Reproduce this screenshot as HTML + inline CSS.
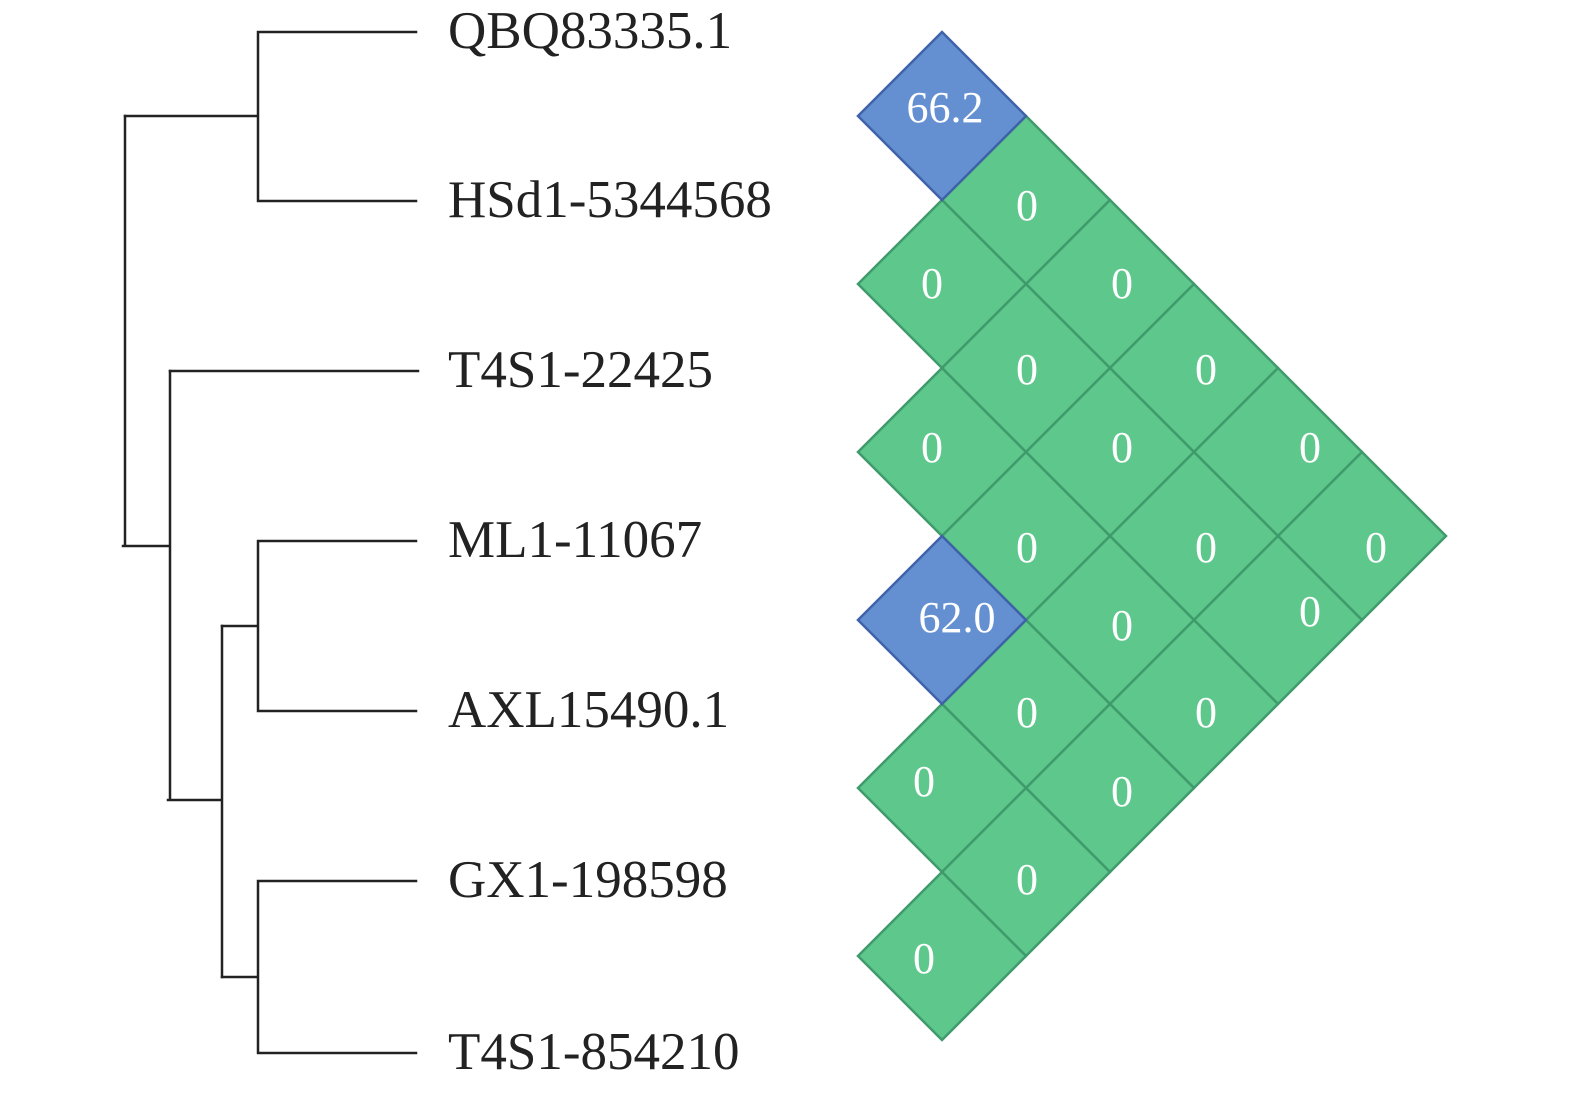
<!DOCTYPE html>
<html><head><meta charset="utf-8"><style>
html,body{margin:0;padding:0;background:#fff;}
svg{display:block;}
</style></head><body>
<svg width="1575" height="1096" viewBox="0 0 1575 1096" xmlns="http://www.w3.org/2000/svg">
<g stroke="#222" stroke-width="2.5" fill="none" stroke-linecap="square">
<path d="M258 32H416M258 201H416M258 32V201M258 116H125"/>
<path d="M170 371H418"/>
<path d="M258 541H416M258 711H416M258 541V711M258 626H222"/>
<path d="M258 881H416M258 1053H416M258 881V1053M258 977H222"/>
<path d="M222 626V977M222 800H168M170 371V800M170 546H123M125 116V546"/>
</g>
<g font-family="Liberation Serif, serif" font-size="53" fill="#222">
<text x="448" y="48">QBQ83335.1</text>
<text x="448" y="217">HSd1-5344568</text>
<text x="448" y="387">T4S1-22425</text>
<text x="448" y="557">ML1-11067</text>
<text x="448" y="727">AXL15490.1</text>
<text x="448" y="897">GX1-198598</text>
<text x="448" y="1069">T4S1-854210</text>
</g>
<g stroke="#3f9a6c" stroke-width="2.5" fill="#5ec78b">
<path d="M942 200l84-84 84 84-84 84z"/>
<path d="M1026 284l84-84 84 84-84 84z"/>
<path d="M1110 368l84-84 84 84-84 84z"/>
<path d="M1194 452l84-84 84 84-84 84z"/>
<path d="M1278 536l84-84 84 84-84 84z"/>
<path d="M858 284l84-84 84 84-84 84z"/>
<path d="M942 368l84-84 84 84-84 84z"/>
<path d="M1026 452l84-84 84 84-84 84z"/>
<path d="M1110 536l84-84 84 84-84 84z"/>
<path d="M1194 620l84-84 84 84-84 84z"/>
<path d="M858 452l84-84 84 84-84 84z"/>
<path d="M942 536l84-84 84 84-84 84z"/>
<path d="M1026 620l84-84 84 84-84 84z"/>
<path d="M1110 704l84-84 84 84-84 84z"/>
<path d="M942 704l84-84 84 84-84 84z"/>
<path d="M1026 788l84-84 84 84-84 84z"/>
<path d="M858 788l84-84 84 84-84 84z"/>
<path d="M942 872l84-84 84 84-84 84z"/>
<path d="M858 956l84-84 84 84-84 84z"/>
</g>
<g stroke="#3f62a8" stroke-width="2.5" fill="#6490d2">
<path d="M858 116l84-84 84 84-84 84z"/>
<path d="M858 620l84-84 84 84-84 84z"/>
</g>
<g font-family="Liberation Serif, serif" font-size="44" fill="#fff" text-anchor="middle">
<text x="945" y="122">66.2</text>
<text x="957" y="632">62.0</text>
<text x="1027" y="220">0</text>
<text x="1122" y="298">0</text>
<text x="1206" y="384">0</text>
<text x="1310" y="462">0</text>
<text x="1376" y="562">0</text>
<text x="932" y="298">0</text>
<text x="1027" y="384">0</text>
<text x="1122" y="462">0</text>
<text x="1206" y="562">0</text>
<text x="1310" y="626">0</text>
<text x="932" y="462">0</text>
<text x="1027" y="562">0</text>
<text x="1122" y="640">0</text>
<text x="1206" y="727">0</text>
<text x="1027" y="727">0</text>
<text x="1122" y="806">0</text>
<text x="924" y="796">0</text>
<text x="1027" y="894">0</text>
<text x="924" y="973">0</text>
</g>
</svg>
</body></html>
